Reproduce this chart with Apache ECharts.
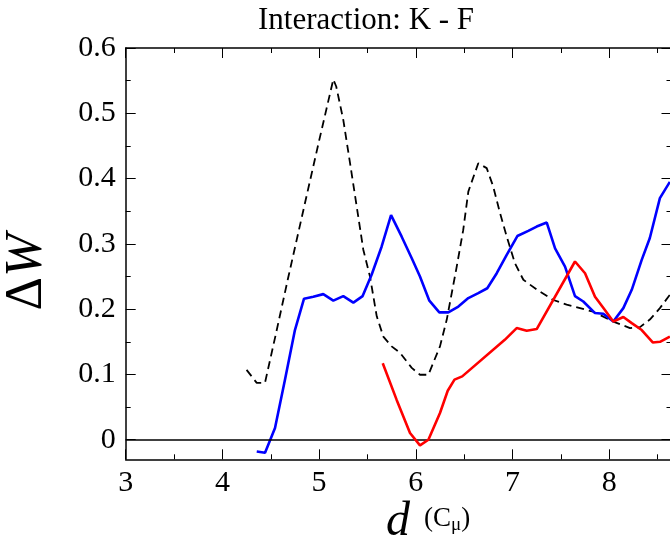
<!DOCTYPE html>
<html>
<head>
<meta charset="utf-8">
<script src="https://cdn.jsdelivr.net/npm/echarts@6/dist/echarts.min.js"></script>
<style>
  html, body { margin: 0; padding: 0; background: #fff; }
  #chart { width: 670px; height: 542px; }
</style>
</head>
<body>
<div id="chart"></div>
<script>
// axis ranges and ticks
const xRange = [3, 8.644];
const yRange = [-0.03, 0.6];
const xMajor = [3, 4, 5, 6, 7, 8];
const xMinor = [3.5, 4.5, 5.5, 6.5, 7.5, 8.5];
const yMajor = [0, 0.1, 0.2, 0.3, 0.4, 0.5, 0.6];
const yMinor = [0.05, 0.15, 0.25, 0.35, 0.45, 0.55];

// dashed black curve
const dashX = [4.25, 4.355, 4.44, 4.55, 4.68, 4.85, 5.0, 5.147, 5.177, 5.25, 5.32, 5.389, 5.457, 5.526,
  5.596, 5.664, 5.75, 5.837, 5.958, 6.043, 6.13, 6.25, 6.32, 6.423, 6.49, 6.543, 6.578, 6.646, 6.733,
  6.80, 6.871, 6.94, 7.026, 7.112, 7.25, 7.422, 7.56, 7.698, 7.835, 8.042, 8.215, 8.318, 8.42, 8.524, 8.627];
const dashY = [0.107, 0.087, 0.087, 0.16, 0.248, 0.36, 0.458, 0.552, 0.541, 0.49, 0.4235, 0.357, 0.291, 0.25,
  0.189, 0.158, 0.143, 0.133, 0.11, 0.0995, 0.0995, 0.143, 0.184, 0.265, 0.321, 0.38, 0.395, 0.4235, 0.416,
  0.388, 0.347, 0.311, 0.27, 0.245, 0.23, 0.214, 0.207, 0.2016, 0.196, 0.181, 0.171, 0.1725, 0.184, 0.2016, 0.222];

// blue curve
const blueX = [4.355, 4.441, 4.544, 4.647, 4.75, 4.844, 4.94, 5.043, 5.147, 5.25, 5.354, 5.45, 5.544, 5.647,
  5.744, 5.854, 5.958, 6.043, 6.14, 6.243, 6.336, 6.44, 6.543, 6.646, 6.739, 6.837, 6.94, 7.05, 7.163,
  7.25, 7.354, 7.44, 7.543, 7.646, 7.732, 7.853, 7.939, 8.042, 8.146, 8.233, 8.336, 8.42, 8.524, 8.627];
const blueY = [-0.018, -0.020, 0.018, 0.092, 0.168, 0.216, 0.219, 0.223, 0.213, 0.220, 0.210, 0.220, 0.253, 0.296,
  0.344, 0.311, 0.278, 0.25, 0.213, 0.195, 0.195, 0.204, 0.217, 0.2245, 0.232, 0.255, 0.283, 0.312, 0.32,
  0.3265, 0.3326, 0.293, 0.265, 0.220, 0.2117, 0.194, 0.193, 0.181, 0.2016, 0.2296, 0.2755, 0.309, 0.37, 0.395];

// red curve
const redX = [5.658, 5.802, 5.94, 6.043, 6.13, 6.25, 6.33, 6.4, 6.48, 6.92, 7.043, 7.147, 7.25, 7.646,
  7.75, 7.853, 7.94, 8.042, 8.146, 8.233, 8.336, 8.45, 8.525, 8.627];
const redY = [0.117, 0.061, 0.0102, -0.0087, 0.0, 0.041, 0.075, 0.092, 0.097, 0.153, 0.171, 0.167, 0.1695, 0.273,
  0.255, 0.219, 0.2016, 0.181, 0.188, 0.1786, 0.168, 0.149, 0.150, 0.158];

const SERIF = '"Liberation Serif", "DejaVu Serif", serif';

function pairs(xs, ys) {
  return xs.map((x, i) => [x, ys[i]]);
}

// one axis layer: major or minor ticks on one side of the box
function axis(range, position, ticks, len, withLine, withLabels) {
  return {
    type: 'value',
    position: position,
    min: range[0],
    max: range[1],
    axisLine: { show: withLine, onZero: false, lineStyle: { color: '#000', width: 1.5 } },
    axisTick: { show: true, inside: true, length: len, customValues: ticks, lineStyle: { color: '#000', width: 1 } },
    axisLabel: {
      show: withLabels,
      customValues: ticks,
      color: '#000',
      fontFamily: SERIF,
      fontSize: 30,
      margin: position === 'bottom' ? 9 : 10
    },
    splitLine: { show: false }
  };
}

const chart = echarts.init(document.getElementById('chart'), null, { renderer: 'canvas' });

chart.setOption({
  animation: false,
  backgroundColor: '#fff',
  grid: { left: 125.7, right: -1.5, top: 48, bottom: 82.7, containLabel: false, outerBoundsMode: 'none' },
  xAxis: [
    axis(xRange, 'bottom', xMajor, 10, true, true),
    axis(xRange, 'bottom', xMinor, 5, false, false),
    axis(xRange, 'top', xMajor, 10, true, false),
    axis(xRange, 'top', xMinor, 5, false, false)
  ],
  yAxis: [
    axis(yRange, 'left', yMajor, 10, true, true),
    axis(yRange, 'left', yMinor, 5, false, false),
    axis(yRange, 'right', yMajor, 10, true, false),
    axis(yRange, 'right', yMinor, 5, false, false)
  ],
  graphic: [
    {
      type: 'text', left: 258, top: 5,
      style: { text: 'Interaction: K - F', font: '31px ' + SERIF, fill: '#000' }
    },
    {
      type: 'text', x: 27, y: 272, rotation: Math.PI / 2,
      style: {
        text: '{a|Δ}{b|W}', fill: '#000', align: 'center', verticalAlign: 'middle',
        rich: {
          a: { fontFamily: SERIF, fontSize: 52, fill: '#000' },
          b: { fontFamily: SERIF, fontSize: 52, fontStyle: 'italic', fill: '#000' }
        }
      }
    },
    {
      type: 'text', x: 386, y: 522,
      style: {
        text: '{d|d}{s|(C}{m|μ}{s|)}', fill: '#000', align: 'left', verticalAlign: 'middle',
        rich: {
          d: { fontFamily: SERIF, fontSize: 48, fontStyle: 'italic', fill: '#000', padding: [0, 14, 0, 0] },
          s: { fontFamily: SERIF, fontSize: 27, fill: '#000', padding: [0, 0, 6, 0] },
          m: { fontFamily: SERIF, fontSize: 19, fill: '#000', padding: [6, 0, 0, 0] }
        }
      }
    }
  ],
  series: [
    {
      type: 'line', name: 'dashed', xAxisIndex: 0, yAxisIndex: 0,
      data: pairs(dashX, dashY), showSymbol: false, symbol: 'none',
      lineStyle: { color: '#000', width: 1.8, type: [8, 5] },
      markLine: {
        silent: true, symbol: 'none', label: { show: false },
        lineStyle: { color: '#000', width: 1.5, type: 'solid' },
        data: [{ yAxis: 0 }]
      },
      z: 3
    },
    {
      type: 'line', name: 'blue', xAxisIndex: 0, yAxisIndex: 0,
      data: pairs(blueX, blueY), showSymbol: false, symbol: 'none',
      lineStyle: { color: '#0000ff', width: 2.6 },
      z: 4
    },
    {
      type: 'line', name: 'red', xAxisIndex: 0, yAxisIndex: 0,
      data: pairs(redX, redY), showSymbol: false, symbol: 'none',
      lineStyle: { color: '#ff0000', width: 2.6 },
      z: 5
    }
  ]
});
</script>
</body>
</html>
